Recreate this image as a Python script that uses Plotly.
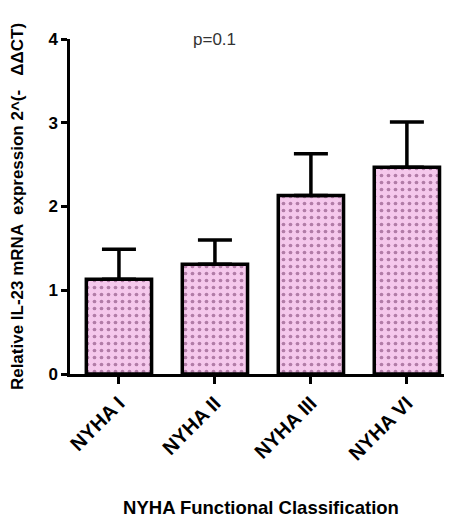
import plotly.graph_objects as go

categories = ["NYHA I", "NYHA II", "NYHA III", "NYHA VI"]
means = [1.13, 1.31, 2.13, 2.47]
err_plus = [0.36, 0.29, 0.50, 0.54]
y_ticks = [0, 1, 2, 3, 4]

font_fam = "Liberation Sans, Arial, sans-serif"

fig = go.Figure()
fig.add_trace(go.Bar(
    x=categories, y=means, width=0.68,
    marker=dict(
        color="#f5c8ec",
        line=dict(color="black", width=3.5),
        pattern=dict(shape=".", fgcolor="#6e3062", bgcolor="#f5c8ec", size=7, solidity=0.22),
    ),
    error_y=dict(type="data", symmetric=False, array=err_plus, arrayminus=[0]*len(means),
                 color="black", thickness=3.5, width=17),
))

fig.update_layout(
    width=444, height=510,
    margin=dict(l=62, r=0, t=31, b=144),
    paper_bgcolor="white", plot_bgcolor="white",
    showlegend=False,
    font=dict(family=font_fam, color="black"),
    xaxis=dict(
        range=[-0.51, 3.47], showline=True, linecolor="black", linewidth=2.5,
        ticks="outside", ticklen=7, tickwidth=2.5, tickcolor="black",
        tickangle=-45, tickfont=dict(size=20, weight="bold", family=font_fam),
        title=dict(text="NYHA Functional Classification", font=dict(size=18.5, weight="bold", family=font_fam), standoff=42),
        automargin=False,
    ),
    yaxis=dict(
        range=[0, 4], tickvals=y_ticks, showline=True, linecolor="black", linewidth=2.5,
        ticks="outside", ticklen=6, tickwidth=2.5, tickcolor="black",
        showgrid=False, zeroline=False,
        tickfont=dict(size=17, weight="bold", family=font_fam),
        title=dict(text="Relative IL-23 mRNA  expression 2^(-   ΔΔCT)", font=dict(size=17, weight="bold", family=font_fam), standoff=30),
        automargin=False,
    ),
    annotations=[dict(text="p=0.1", x=1.0, y=4.0, xref="x", yref="y", showarrow=False,
                      font=dict(size=17, color="#333333", family=font_fam), yanchor="middle")],
)

fig.write_html("out.html")
